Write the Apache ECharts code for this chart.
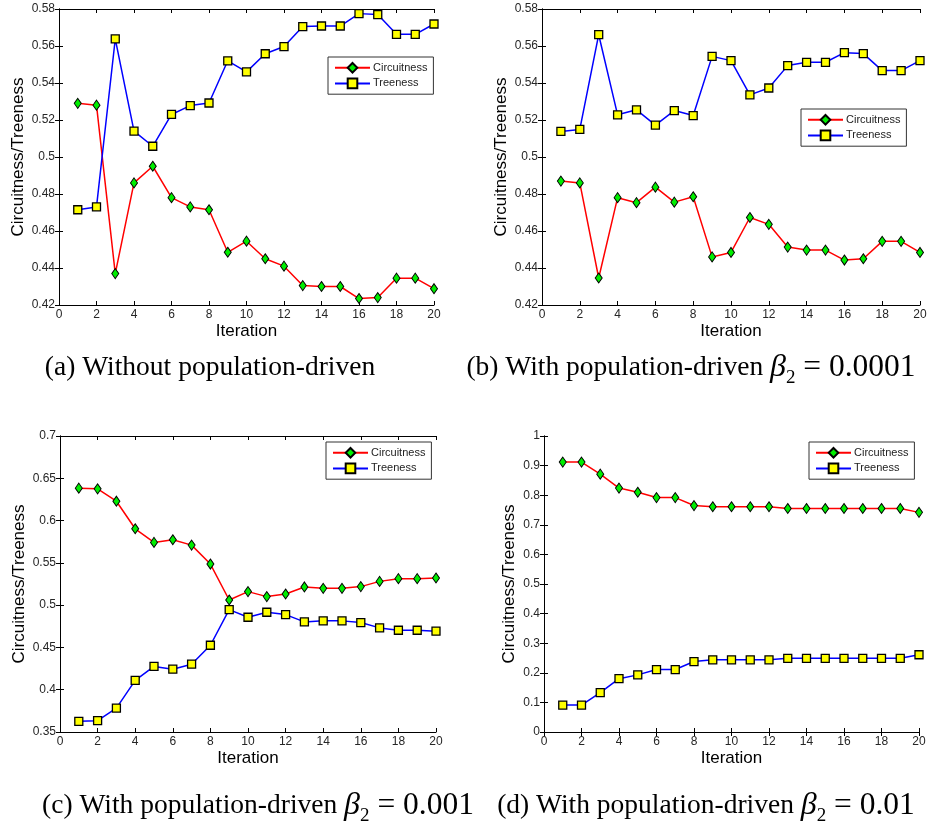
<!DOCTYPE html>
<html>
<head>
<meta charset="utf-8">
<title>Circuitness and Treeness over iterations</title>
<script src="https://cdn.jsdelivr.net/npm/echarts@6/dist/echarts.min.js"></script>
<style>
  html, body { margin: 0; padding: 0; background: #fff; }
  #chart { width: 930px; height: 832px; }
</style>
</head>
<body>
<div id="chart"></div>
<script>
// Iteration index shared by all four panels
const iterations = [1, 2, 3, 4, 5, 6, 7, 8, 9, 10, 11, 12, 13, 14, 15, 16, 17, 18, 19, 20];

// (a) Without population-driven
const circA = [0.529, 0.528, 0.437, 0.486, 0.495, 0.478, 0.473, 0.4715, 0.4485, 0.4545, 0.445, 0.441, 0.4305, 0.430, 0.430, 0.4235, 0.424, 0.4345, 0.4345, 0.4288];
const treeA = [0.4715, 0.473, 0.5638, 0.514, 0.5058, 0.523, 0.5278, 0.5292, 0.552, 0.546, 0.5558, 0.5597, 0.5705, 0.5708, 0.5708, 0.5775, 0.577, 0.5663, 0.5663, 0.5719];

// (b) beta2 = 0.0001
const circB = [0.487, 0.486, 0.4346, 0.478, 0.4753, 0.4837, 0.4756, 0.4785, 0.446, 0.4484, 0.4673, 0.4636, 0.4513, 0.4497, 0.4497, 0.4443, 0.445, 0.4544, 0.4544, 0.4484];
const treeB = [0.5138, 0.5149, 0.5661, 0.5228, 0.5255, 0.5172, 0.5251, 0.5224, 0.5544, 0.5521, 0.5336, 0.5373, 0.5494, 0.5512, 0.5512, 0.5564, 0.5559, 0.5467, 0.5467, 0.5521];

// (c) beta2 = 0.001
const circC = [0.6383, 0.6375, 0.6229, 0.5903, 0.5742, 0.5773, 0.571, 0.5486, 0.5061, 0.516, 0.5101, 0.5132, 0.5215, 0.5199, 0.5199, 0.5219, 0.5281, 0.5313, 0.5313, 0.5321];
const treeC = [0.3626, 0.3634, 0.3783, 0.411, 0.4275, 0.4243, 0.4302, 0.4526, 0.4947, 0.4857, 0.4916, 0.4888, 0.4802, 0.4814, 0.4814, 0.4794, 0.4731, 0.4703, 0.4703, 0.4692];

// (d) beta2 = 0.01
const circD = [0.912, 0.912, 0.871, 0.824, 0.81, 0.792, 0.792, 0.765, 0.761, 0.761, 0.761, 0.761, 0.755, 0.755, 0.755, 0.755, 0.755, 0.755, 0.755, 0.742];
const treeD = [0.091, 0.091, 0.133, 0.18, 0.193, 0.211, 0.211, 0.238, 0.244, 0.244, 0.244, 0.244, 0.249, 0.249, 0.249, 0.249, 0.249, 0.249, 0.249, 0.261];

// Value ranges of the y axes: [min, max, step]
const yRangeA = [0.42, 0.58, 0.02];
const yRangeB = [0.42, 0.58, 0.02];
const yRangeC = [0.35, 0.7, 0.05];
const yRangeD = [0, 1, 0.1];
const xRange = [0, 20, 2];

const seriesNames = ['Circuitness', 'Treeness'];
const captionLabels = ['(a) Without population-driven', '(b) With population-driven ', '(c) With population-driven ', '(d) With population-driven '];
const captionBetas = [null, '0.0001', '0.001', '0.01'];

const panels = [
  { circ: circA, tree: treeA, y: yRangeA, grid: { left: 59, top: 9, width: 375, height: 296 }, legend: { left: 328, top: 57 }, nameGap: 32 },
  { circ: circB, tree: treeB, y: yRangeB, grid: { left: 542, top: 9, width: 378, height: 296 }, legend: { left: 801, top: 109 }, nameGap: 32 },
  { circ: circC, tree: treeC, y: yRangeC, grid: { left: 60, top: 436, width: 376, height: 296 }, legend: { left: 326, top: 442 }, nameGap: 32 },
  { circ: circD, tree: treeD, y: yRangeD, grid: { left: 544, top: 436, width: 375, height: 296 }, legend: { left: 809, top: 442 }, nameGap: 26 }
];

const SANS = 'Liberation Sans, Arial, Helvetica, sans-serif';
const SERIF = 'Liberation Serif, Times New Roman, serif';
const frame = { show: true, lineStyle: { color: '#000', width: 1 } };
const tick = { show: true, inside: true, length: 4, lineStyle: { color: '#000', width: 1 } };
const tickLabel = { color: '#262626', fontSize: 12, fontFamily: SANS };

const grids = [], xAxes = [], yAxes = [], series = [], legends = [];

panels.forEach((p, i) => {
  grids.push(Object.assign({ containLabel: false }, p.grid));

  // bottom axis carries labels and title, top axis only closes the box
  xAxes.push({
    type: 'value', gridIndex: i, position: 'bottom',
    min: xRange[0], max: xRange[1], interval: xRange[2],
    axisLine: frame, axisTick: tick, splitLine: { show: false },
    axisLabel: Object.assign({ margin: 4 }, tickLabel),
    name: 'Iteration', nameLocation: 'middle', nameGap: 18,
    nameTextStyle: { fontSize: 17, color: '#000', fontFamily: SANS }
  });
  xAxes.push({
    type: 'value', gridIndex: i, position: 'top',
    min: xRange[0], max: xRange[1], interval: xRange[2],
    axisLine: frame, axisTick: tick, splitLine: { show: false },
    axisLabel: { show: false }
  });

  yAxes.push({
    type: 'value', gridIndex: i, position: 'left',
    min: p.y[0], max: p.y[1], interval: p.y[2],
    axisLine: frame, axisTick: tick, splitLine: { show: false },
    axisLabel: Object.assign({ margin: 4 }, tickLabel),
    name: 'Circuitness/Treeness', nameLocation: 'middle', nameRotate: 90, nameGap: p.nameGap,
    nameTextStyle: { fontSize: 17, color: '#000', fontFamily: SANS }
  });
  yAxes.push({
    type: 'value', gridIndex: i, position: 'right',
    min: p.y[0], max: p.y[1], interval: p.y[2],
    axisLine: frame, axisTick: tick, splitLine: { show: false },
    axisLabel: { show: false }
  });

  series.push({
    name: seriesNames[0], type: 'line',
    xAxisIndex: 2 * i, yAxisIndex: 2 * i,
    data: iterations.map((x, k) => [x, p.circ[k]]),
    symbol: 'diamond', symbolSize: [7, 10], clip: false,
    lineStyle: { color: '#ff0000', width: 1.5 },
    itemStyle: { color: '#00ee00', borderColor: '#000', borderWidth: 1 },
    emphasis: { disabled: true }, animation: false
  });
  series.push({
    name: seriesNames[1], type: 'line',
    xAxisIndex: 2 * i, yAxisIndex: 2 * i,
    data: iterations.map((x, k) => [x, p.tree[k]]),
    symbol: 'rect', symbolSize: 8, clip: false,
    lineStyle: { color: '#0000ff', width: 1.5 },
    itemStyle: { color: '#ffff00', borderColor: '#000', borderWidth: 1.3 },
    emphasis: { disabled: true }, animation: false
  });

  legends.push({
    data: seriesNames, orient: 'vertical',
    left: p.legend.left, top: p.legend.top,
    itemWidth: 35, itemHeight: 12, itemGap: 4,
    padding: [5, 6, 5, 6],
    backgroundColor: '#fff', borderColor: '#333', borderWidth: 1,
    selectedMode: false,
    textStyle: { fontSize: 11, color: '#222', fontFamily: SANS, padding: [0, 0, 0, -2] }
  });
});

// Sub-figure captions (centred), with the beta-2 parameter set in math style
const captionPos = [
  { x: 210, y: 368 },
  { x: 691, y: 368 },
  { x: 258, y: 806 },
  { x: 706, y: 806 }
];
const captionRich = {
  t: { fontFamily: SERIF, fontSize: 27.5, color: '#000', lineHeight: 40 },
  m: { fontFamily: SERIF, fontSize: 31.5, color: '#000', lineHeight: 40 },
  b: { fontFamily: SERIF, fontSize: 32, fontStyle: 'italic', color: '#000', lineHeight: 40 },
  s: { fontFamily: SERIF, fontSize: 19, color: '#000', lineHeight: 20, verticalAlign: 'bottom' }
};
const graphics = captionLabels.map((label, i) => {
  let text = '{t|' + label + '}';
  if (captionBetas[i]) text += '{b|β}{s|2}{m| = ' + captionBetas[i] + '}';
  return {
    type: 'text', x: captionPos[i].x, y: captionPos[i].y,
    style: { text: text, rich: captionRich, textAlign: 'center', textVerticalAlign: 'middle' }
  };
});

const chart = echarts.init(document.getElementById('chart'), null, { renderer: 'canvas' });
chart.setOption({
  backgroundColor: '#fff',
  animation: false,
  grid: grids,
  xAxis: xAxes,
  yAxis: yAxes,
  legend: legends,
  series: series,
  graphic: graphics
});
</script>
</body>
</html>
